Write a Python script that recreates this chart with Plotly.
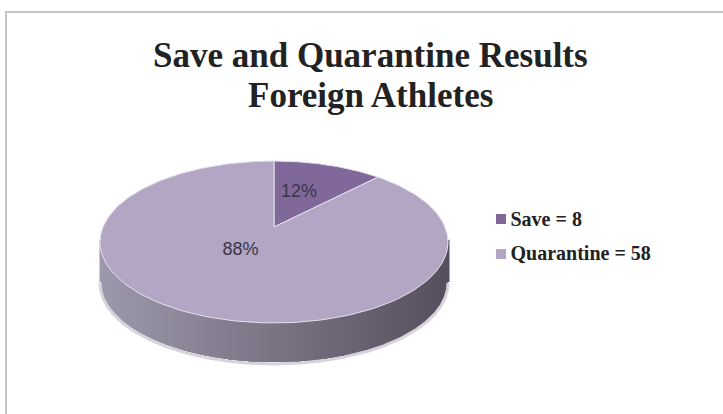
"""
Save and quarantine pie, foreign athletes (tilted 3D look).
"""
import numpy as np
import plotly.graph_objects as go

categories = ['Save', 'Quarantine']
values = [8, 58]
percent_labels = ['12%', '88%']
slice_colors = ['#80689b', '#b2a6c4']

title_lines = ['Save and Quarantine Results', 'Foreign Athletes']

# projection of the pie disc onto the page (page pixels)
APEX_X, APEX_Y = 274, 227
RX, RY, PERSPECTIVE = 171, 78.2, 0.185
DEPTH = 40


def project(theta, drop=0.0):
    u, v = np.sin(theta), np.cos(theta)
    w = 1 + PERSPECTIVE * v
    return APEX_X + RX * u / w, APEX_Y - RY * v / w + drop


fig = go.Figure()

# side wall as a heatmap masked to the rim, light on the left to dark on the right
# front edge runs between the widest points, which sit a little below the apex
widest = np.arccos(PERSPECTIVE)
front = np.linspace(np.pi + widest, np.pi - widest, 400)
front_x, front_y = project(front)
grid_x = np.arange(front_x.min(), front_x.max() + 1)
grid_y = np.arange(front_y.min() - 2, front_y.max() + DEPTH + 2)
rim_top = np.interp(grid_x, front_x, front_y)
shade = np.tile((grid_x - grid_x[0]) / (grid_x[-1] - grid_x[0]), (len(grid_y), 1))
shade[(grid_y[:, None] > rim_top + DEPTH) | (grid_y[:, None] < rim_top - 2)] = np.nan
fig.add_trace(go.Heatmap(x=grid_x, y=grid_y, z=shade, zmin=0, zmax=1, showscale=False,
                         colorscale=[[0, 'rgb(158,152,172)'], [1, 'rgb(84,78,92)']],
                         hoverinfo='skip'))

# soft edge under the side wall
x, y = project(front, DEPTH + 1)
fig.add_trace(go.Scatter(x=x, y=y, mode='lines', hoverinfo='skip', showlegend=False,
                         line=dict(color='#d6d4da', width=3)))

# top face
total = sum(values)
start = 0.0
for name, value, color in zip(categories, values, slice_colors):
    end = start + 2 * np.pi * value / total
    arc = np.linspace(start, end, 200)
    x, y = project(arc)
    fig.add_trace(go.Scatter(x=np.r_[APEX_X, x, APEX_X], y=np.r_[APEX_Y, y, APEX_Y],
                             mode='lines', fill='toself', fillcolor=color,
                             line=dict(color='#e6e2ec', width=1),
                             name=name, hovertemplate=f'{name}: {value}<extra></extra>',
                             showlegend=False))
    start = end

# percent labels
fig.add_trace(go.Scatter(x=[299, 240.5], y=[192, 250], mode='text', text=percent_labels,
                         textposition='middle center', hoverinfo='skip', showlegend=False,
                         textfont=dict(family='Liberation Sans', size=18, color='#3b3646')))

# legend
fig.add_trace(go.Scatter(x=[501, 501], y=[219, 254], mode='markers', hoverinfo='skip',
                         showlegend=False,
                         marker=dict(symbol='square', size=10, color=slice_colors)))
fig.add_trace(go.Scatter(x=[510.5, 510.5], y=[221, 255], mode='text',
                         text=[f'<b>{c} = {v}</b>' for c, v in zip(categories, values)],
                         textposition='middle right', hoverinfo='skip', showlegend=False,
                         textfont=dict(family='Liberation Serif', size=20, color='#222222')))

fig.update_layout(
    width=723,
    height=414,
    margin=dict(l=0, r=0, t=0, b=0),
    paper_bgcolor='white',
    plot_bgcolor='white',
    xaxis=dict(range=[0, 723], visible=False, fixedrange=True),
    yaxis=dict(range=[414, 0], visible=False, fixedrange=True),
    font=dict(family='Liberation Serif'),
    annotations=[
        dict(text=f'<b>{line}</b>', x=370, y=y, xref='x', yref='y', showarrow=False,
             font=dict(family='Liberation Serif', size=35, color='#222222'))
        for line, y in zip(title_lines, [55, 95])
    ],
    shapes=[
        dict(type='path', path='M 6 414 L 6 12 L 723 12', xref='x', yref='y',
             line=dict(color='#c6c6c6', width=2), layer='below'),
    ],
)

# the page's default body margin would push the figure 8px in
fig.write_html("out.html", config=dict(displayModeBar=False),
               post_script="document.body.style.margin='0';")
